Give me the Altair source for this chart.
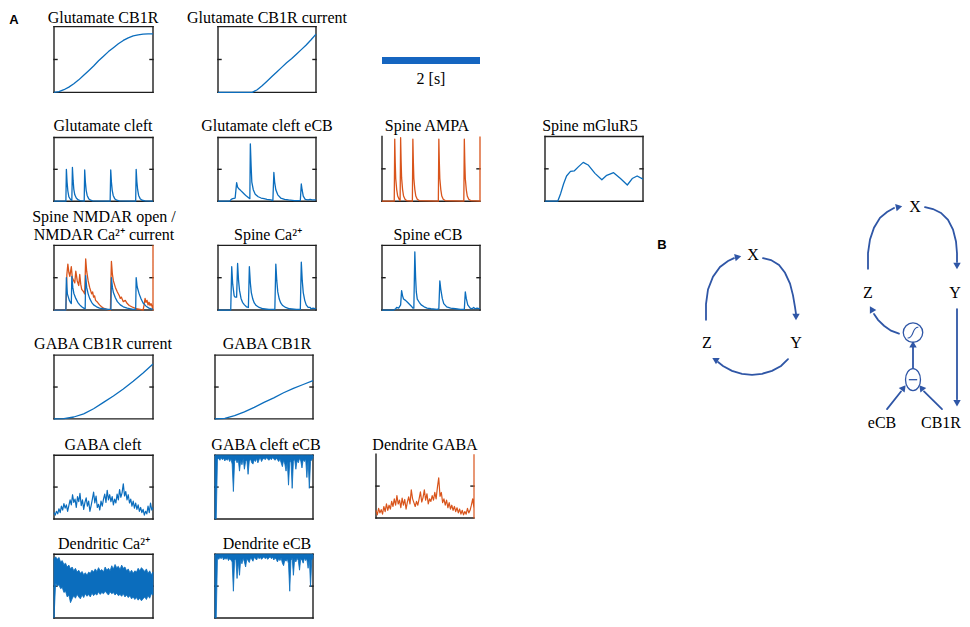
import altair as alt
import pandas as pd

W, H, M = 954, 611, 8
YTOP = 0          # page y shown at the top edge of the chart
YS = 0.9807       # vertical squeeze so the whole reference height fits
BLUE = "#0b6dbd"
ORANGE = "#d9541b"
INK = "#1e1e1e"
ARROW = "#2f56a6"
SERIF = "Liberation Serif, Times New Roman, serif"
SANS = "Liberation Sans, Arial, sans-serif"

# ---------------- panel layout (page pixels) ----------------
panel_keys = ["glu_cb1r", "glu_cb1r_cur", "glu_cleft", "glu_cleft_ecb", "spine_ampa",
              "spine_mglur5", "spine_nmdar", "spine_ca", "spine_ecb", "gaba_cb1r_cur",
              "gaba_cb1r", "gaba_cleft", "gaba_cleft_ecb", "dend_gaba", "dend_ca", "dend_ecb"]
box_left = [54, 218, 54, 218, 382, 545, 54, 218, 382, 54, 215, 54, 215, 376, 54, 215]
box_right = [153, 316, 153, 316, 480, 643, 153, 316, 480, 153, 313, 153, 313, 474, 153, 313]
box_top = [19, 19, 132, 132, 131, 131, 242, 242, 242, 354, 354, 456, 456, 455, 557, 557]
box_bottom = [86, 86, 197, 197, 197, 197, 308, 308, 308, 419, 419, 521, 521, 520, 622, 622]
box_edges = ["LRTB", "LRTB", "LRTB", "LRTB", "LB", "LRTB", "LTB", "LRTB", "LRTB", "LRTB",
             "LRTB", "LRTB", "LRTB", "LB", "LRTB", "LRTB"]

title_text = ["Glutamate CB1R", "Glutamate CB1R current", "Glutamate cleft", "Glutamate cleft eCB",
              "Spine AMPA", "Spine mGluR5", "Spine NMDAR open /", "NMDAR Ca²⁺ current", "Spine Ca²⁺",
              "Spine eCB", "GABA CB1R current", "GABA CB1R", "GABA cleft", "GABA cleft eCB",
              "Dendrite GABA", "Dendritic Ca²⁺", "Dendrite eCB"]
title_cx = [103, 267, 103, 267, 427, 590, 104, 104, 268, 428, 103, 267, 103, 266, 425, 104, 267]
title_y = [15, 15, 125, 125, 125, 125, 218, 237, 237, 237, 348, 348, 451, 451, 451, 552, 552]

# ---------------- traces (time fraction, value fraction) ----------------
glu_cb1r_t = [0, 0.05, 0.1, 0.15, 0.2, 0.25, 0.3, 0.35, 0.4, 0.45, 0.5, 0.55, 0.6, 0.65, 0.7, 0.75, 0.8, 0.85, 0.9, 0.95, 1.0]
glu_cb1r_v = [0, 0.01, 0.04, 0.08, 0.13, 0.19, 0.26, 0.33, 0.40, 0.48, 0.55, 0.62, 0.68, 0.74, 0.79, 0.83, 0.86, 0.875, 0.885, 0.89, 0.89]

glu_cb1r_cur_t = [0, 0.1, 0.2, 0.3, 0.35, 0.4, 0.45, 0.5, 0.55, 0.6, 0.65, 0.7, 0.75, 0.8, 0.85, 0.9, 0.95, 1.0]
glu_cb1r_cur_v = [0, 0, 0, 0, 0.0, 0.04, 0.10, 0.17, 0.24, 0.31, 0.38, 0.45, 0.51, 0.58, 0.65, 0.72, 0.80, 0.885]

glu_cleft_t = [0, 0.12, 0.125, 0.132, 0.14, 0.15, 0.165, 0.18, 0.186, 0.193, 0.2, 0.21, 0.225, 0.245, 0.265, 0.305,
               0.31, 0.317, 0.325, 0.335, 0.35, 0.37, 0.39, 0.567, 0.573, 0.58, 0.588, 0.598, 0.613, 0.633, 0.66,
               0.825, 0.83, 0.837, 0.845, 0.855, 0.87, 0.89, 0.92, 1.0]
glu_cleft_v = [0, 0, 0.50, 0.30, 0.16, 0.07, 0.03, 0.01, 0.53, 0.33, 0.19, 0.10, 0.05, 0.02, 0.01, 0.0,
               0.49, 0.30, 0.17, 0.09, 0.04, 0.015, 0.005, 0, 0.49, 0.30, 0.17, 0.09, 0.04, 0.015, 0.005,
               0, 0.50, 0.31, 0.18, 0.09, 0.04, 0.015, 0.005, 0]

glu_cleft_ecb_t = [0, 0.12, 0.135, 0.15, 0.175, 0.19, 0.2, 0.215, 0.23, 0.25, 0.27, 0.29, 0.315, 0.325, 0.33, 0.338,
                   0.345, 0.36, 0.38, 0.41, 0.44, 0.47, 0.5, 0.54, 0.56, 0.57, 0.578, 0.59, 0.61, 0.64, 0.68, 0.72,
                   0.78, 0.84, 0.85, 0.858, 0.87, 0.89, 0.92, 0.94, 0.96, 1.0]
glu_cleft_ecb_v = [0, 0, 0.03, 0.04, 0.05, 0.29, 0.22, 0.19, 0.17, 0.14, 0.11, 0.08, 0.05, 0.04, 0.90, 0.55,
                   0.30, 0.18, 0.11, 0.07, 0.05, 0.04, 0.03, 0.02, 0.01, 0.45, 0.30, 0.18, 0.10, 0.05, 0.03, 0.02,
                   0.01, 0.01, 0.27, 0.18, 0.08, 0.03, 0.02, 0.03, 0.02, 0.02]

ampa_t = [0, 0.125, 0.13, 0.135, 0.14, 0.15, 0.16, 0.175, 0.185, 0.19, 0.195, 0.2, 0.21, 0.22, 0.235, 0.25,
          0.31, 0.315, 0.32, 0.325, 0.335, 0.345, 0.36, 0.38, 0.575, 0.58, 0.585, 0.59, 0.6, 0.61, 0.625, 0.645,
          0.835, 0.84, 0.845, 0.85, 0.86, 0.87, 0.885, 0.905, 1.0, 1.0]
ampa_v = [0, 0, 0.96, 0.60, 0.35, 0.18, 0.08, 0.03, 0.01, 0.98, 0.62, 0.36, 0.18, 0.08, 0.03, 0.01,
          0, 0.96, 0.60, 0.35, 0.18, 0.08, 0.03, 0.01, 0, 0.96, 0.60, 0.35, 0.18, 0.08, 0.03, 0.01,
          0, 0.96, 0.60, 0.35, 0.18, 0.08, 0.03, 0.01, 0, 1.0]

mglur5_t = [0, 0.13, 0.16, 0.19, 0.22, 0.26, 0.30, 0.34, 0.39, 0.44, 0.51, 0.58, 0.63, 0.70, 0.77, 0.84, 0.89, 0.94, 1.0]
mglur5_v = [0, 0, 0.12, 0.27, 0.39, 0.46, 0.47, 0.53, 0.60, 0.56, 0.43, 0.33, 0.40, 0.44, 0.35, 0.25, 0.35, 0.39, 0.34]

nmdar_o_t = [0, 0.12, 0.13, 0.14, 0.15, 0.16, 0.175, 0.185, 0.2, 0.21, 0.22, 0.235, 0.25, 0.26, 0.27, 0.28, 0.3,
             0.31, 0.32, 0.33, 0.345, 0.36, 0.37, 0.38, 0.39, 0.4, 0.41, 0.42, 0.44, 0.46, 0.48, 0.5, 0.53, 0.57,
             0.575, 0.58, 0.59, 0.6, 0.62, 0.64, 0.66, 0.67, 0.68, 0.7, 0.72, 0.74, 0.76, 0.8, 0.83, 0.87, 0.9,
             0.91, 0.92, 0.93, 0.94, 0.95, 0.96, 0.97, 0.98, 0.99, 1.0, 1.0]
nmdar_o_v = [0, 0, 0.55, 0.71, 0.58, 0.52, 0.67, 0.50, 0.45, 0.42, 0.60, 0.45, 0.38, 0.55, 0.40, 0.32, 0.28,
             0.25, 0.79, 0.60, 0.45, 0.35, 0.30, 0.25, 0.28, 0.20, 0.22, 0.15, 0.12, 0.08, 0.05, 0.03, 0.01, 0,
             0.45, 0.75, 0.55, 0.45, 0.35, 0.28, 0.22, 0.18, 0.20, 0.13, 0.15, 0.10, 0.07, 0.04, 0.02, 0.01, 0,
             0.08, 0.18, 0.12, 0.15, 0.08, 0.12, 0.07, 0.10, 0.06, 0, 1.0]
nmdar_b_t = [0, 0.12, 0.125, 0.135, 0.145, 0.155, 0.165, 0.175, 0.18, 0.19, 0.2, 0.22, 0.24, 0.26, 0.28, 0.3, 0.315,
             0.32, 0.33, 0.345, 0.36, 0.38, 0.4, 0.43, 0.46, 0.5, 0.55, 0.575, 0.58, 0.59, 0.6, 0.62, 0.64, 0.67,
             0.7, 0.74, 0.8, 0.825, 0.83, 0.84, 0.86, 0.88, 0.9, 0.93, 0.96, 1.0]
nmdar_b_v = [0, 0, 0.50, 0.25, 0.20, 0.15, 0.12, 0.10, 0.52, 0.35, 0.26, 0.18, 0.12, 0.08, 0.05, 0.03, 0.02,
             0.53, 0.35, 0.25, 0.18, 0.12, 0.08, 0.05, 0.03, 0.02, 0.01, 0.01, 0.50, 0.35, 0.27, 0.19, 0.13, 0.08,
             0.05, 0.03, 0.01, 0.01, 0.50, 0.36, 0.25, 0.17, 0.11, 0.06, 0.03, 0.01]

spine_ca_t = [0, 0.13, 0.14, 0.15, 0.165, 0.175, 0.19, 0.2, 0.21, 0.22, 0.235, 0.25, 0.27, 0.29, 0.31, 0.32, 0.33,
              0.34, 0.355, 0.37, 0.39, 0.42, 0.46, 0.52, 0.58, 0.59, 0.6, 0.61, 0.625, 0.64, 0.66, 0.69, 0.73, 0.8,
              0.84, 0.85, 0.86, 0.87, 0.885, 0.9, 0.92, 0.94, 0.95, 0.97, 1.0]
spine_ca_v = [0, 0, 0.67, 0.40, 0.22, 0.20, 0.20, 0.72, 0.45, 0.30, 0.18, 0.12, 0.08, 0.05, 0.04, 0.67, 0.42,
              0.27, 0.17, 0.11, 0.07, 0.04, 0.02, 0.01, 0.01, 0.71, 0.45, 0.28, 0.17, 0.11, 0.07, 0.04, 0.02, 0.01,
              0.01, 0.74, 0.45, 0.27, 0.15, 0.08, 0.04, 0.04, 0.02, 0.03, 0.02]

spine_ecb_t = [0, 0.12, 0.14, 0.15, 0.17, 0.19, 0.2, 0.21, 0.22, 0.24, 0.26, 0.28, 0.3, 0.315, 0.325, 0.335, 0.343,
               0.35, 0.36, 0.38, 0.4, 0.43, 0.46, 0.5, 0.56, 0.58, 0.59, 0.6, 0.615, 0.63, 0.66, 0.7, 0.75, 0.8,
               0.84, 0.85, 0.86, 0.875, 0.9, 0.92, 0.935, 0.95, 0.97, 1.0]
spine_ecb_v = [0, 0, 0.02, 0.04, 0.03, 0.08, 0.30, 0.22, 0.17, 0.15, 0.12, 0.09, 0.06, 0.03, 0.03, 0.90, 0.50,
               0.28, 0.17, 0.12, 0.08, 0.05, 0.03, 0.02, 0.01, 0.02, 0.45, 0.32, 0.18, 0.10, 0.05, 0.03, 0.02, 0.01,
               0.01, 0.28, 0.18, 0.08, 0.03, 0.02, 0.04, 0.02, 0.03, 0.02]

gaba_cb1r_cur_t = [0, 0.1, 0.2, 0.3, 0.4, 0.5, 0.6, 0.7, 0.8, 0.9, 1.0]
gaba_cb1r_cur_v = [0, 0.005, 0.03, 0.08, 0.16, 0.26, 0.36, 0.47, 0.59, 0.72, 0.86]

gaba_cb1r_t = [0, 0.1, 0.2, 0.3, 0.4, 0.5, 0.6, 0.7, 0.8, 0.9, 1.0]
gaba_cb1r_v = [0, 0.01, 0.05, 0.11, 0.18, 0.26, 0.33, 0.41, 0.48, 0.54, 0.60]

# evenly sampled noisy traces (sample values, left to right)
gaba_cleft_v = [0.10, 0.06, 0.12, 0.08, 0.16, 0.10, 0.20, 0.14, 0.24, 0.17,
                0.22, 0.12, 0.21, 0.30, 0.22, 0.38, 0.26, 0.31, 0.18, 0.35,
                0.27, 0.40, 0.21, 0.30, 0.15, 0.26, 0.33, 0.20, 0.28, 0.12,
                0.21, 0.31, 0.42, 0.25, 0.36, 0.18, 0.23, 0.14, 0.28, 0.20,
                0.31, 0.39, 0.26, 0.45, 0.30, 0.38, 0.27, 0.35, 0.22, 0.31,
                0.25, 0.39, 0.30, 0.46, 0.34, 0.41, 0.55, 0.36, 0.43, 0.30,
                0.38, 0.25, 0.31, 0.20, 0.28, 0.17, 0.25, 0.15, 0.22, 0.12,
                0.18, 0.10, 0.15, 0.06, 0.12, 0.08, 0.20, 0.10, 0.25, 0.14, 0.18]

dend_gaba_v = [0.12, 0.05, 0.15, 0.08, 0.13, 0.06, 0.18, 0.10, 0.22, 0.12,
               0.20, 0.14, 0.26, 0.18, 0.30, 0.20, 0.35, 0.22, 0.28, 0.16,
               0.31, 0.20, 0.29, 0.14, 0.25, 0.33, 0.22, 0.44, 0.30, 0.24,
               0.18, 0.26, 0.20, 0.30, 0.41, 0.25, 0.32, 0.44, 0.28, 0.38,
               0.22, 0.30, 0.26, 0.35, 0.28, 0.40, 0.30, 0.48, 0.63, 0.34,
               0.40, 0.24, 0.30, 0.20, 0.28, 0.16, 0.24, 0.14, 0.20, 0.12,
               0.18, 0.10, 0.16, 0.08, 0.14, 0.06, 0.12, 0.05, 0.10, 0.06,
               0.15, 0.08, 0.12, 0.20, 0.30, 0.15]

gaba_cleft_ecb_low = [0.00, 0.00, 0.93, 0.95, 0.92, 0.96, 0.93, 0.95, 0.91, 0.94,
                      0.92, 0.95, 0.90, 0.94, 0.86, 0.43, 0.90, 0.94, 0.88, 0.93,
                      0.75, 0.92, 0.85, 0.95, 0.78, 0.90, 0.93, 0.70, 0.91, 0.94,
                      0.88, 0.86, 0.93, 0.90, 0.95, 0.88, 0.93, 0.96, 0.90, 0.94,
                      0.95, 0.93, 0.96, 0.94, 0.92, 0.95, 0.93, 0.96, 0.94, 0.92,
                      0.95, 0.93, 0.90, 0.94, 0.88, 0.82, 0.92, 0.86, 0.75, 0.90,
                      0.53, 0.88, 0.92, 0.48, 0.90, 0.94, 0.78, 0.92, 0.88, 0.95,
                      0.91, 0.80, 0.93, 0.90, 0.94, 0.65, 0.92, 0.48, 0.90, 0.93, 0.95]

dend_ecb_low = [0.00, 0.00, 0.94, 0.92, 0.95, 0.93, 0.96, 0.91, 0.94, 0.92,
                0.95, 0.90, 0.93, 0.91, 0.88, 0.42, 0.90, 0.93, 0.62, 0.89,
                0.67, 0.92, 0.85, 0.94, 0.88, 0.80, 0.93, 0.90, 0.87, 0.94,
                0.92, 0.89, 0.95, 0.93, 0.91, 0.96, 0.93, 0.95, 0.92, 0.94,
                0.96, 0.93, 0.95, 0.92, 0.94, 0.96, 0.93, 0.95, 0.91, 0.94,
                0.92, 0.88, 0.93, 0.90, 0.94, 0.86, 0.82, 0.91, 0.89, 0.93,
                0.85, 0.42, 0.90, 0.94, 0.67, 0.92, 0.88, 0.94, 0.90, 0.75,
                0.93, 0.91, 0.86, 0.94, 0.90, 0.92, 0.78, 0.93, 0.49, 0.91, 0.94]

dend_ca_upper = [0.93, 0.96, 0.92, 0.95, 0.88, 0.90, 0.84, 0.86, 0.80, 0.83,
                 0.77, 0.80, 0.74, 0.78, 0.72, 0.75, 0.70, 0.73, 0.68, 0.71,
                 0.67, 0.72, 0.70, 0.75, 0.72, 0.77, 0.73, 0.79, 0.74, 0.76,
                 0.72, 0.80, 0.75, 0.78, 0.74, 0.82, 0.77, 0.84, 0.79, 0.81,
                 0.76, 0.83, 0.78, 0.80, 0.74, 0.77, 0.71, 0.75, 0.70, 0.74,
                 0.72, 0.78, 0.74, 0.79, 0.76, 0.73, 0.77, 0.70, 0.74, 0.68, 0.72]
dend_ca_lower = [0.00, 0.55, 0.50, 0.52, 0.46, 0.48, 0.40, 0.42, 0.33, 0.36,
                 0.24, 0.30, 0.35, 0.31, 0.37, 0.33, 0.30, 0.36, 0.32, 0.38,
                 0.34, 0.37, 0.33, 0.39, 0.35, 0.38, 0.36, 0.41, 0.37, 0.40,
                 0.38, 0.42, 0.39, 0.36, 0.41, 0.38, 0.40, 0.36, 0.39, 0.35,
                 0.37, 0.34, 0.38, 0.33, 0.36, 0.32, 0.35, 0.30, 0.33, 0.29,
                 0.32, 0.28, 0.31, 0.27, 0.30, 0.33, 0.29, 0.35, 0.31, 0.38, 0.36]

# scale bar: 2 s, spanning one panel width
scalebar_x = [382, 480]
scalebar_y = [53.5]
scalebar_label = ["2 [s]"]
scalebar_label_xy = [431, 77]

# ---------------- panel B diagram (page pixels) ----------------
arcs = {
    "L_zx": ([706, 706, 708, 713, 720, 728, 734], [318, 302, 287, 274, 264, 258, 255]),
    "L_xy": ([763, 771, 779, 785, 790, 793, 795, 796], [255, 257, 262, 270, 281, 293, 305, 312]),
    "L_yz": ([788, 781, 772, 762, 752, 742, 732, 723, 718], [358, 365, 370, 373, 374, 373, 370, 365, 361]),
    "R_zx": ([868, 868, 870, 874, 880, 887, 894], [266, 250, 236, 224, 214, 208, 204]),
    "R_xy": ([925, 933, 941, 948, 953, 956, 957, 957], [203, 205, 209, 216, 226, 238, 250, 259]),
    "R_y_cb": ([957, 957], [307, 399]),
    "R_sig_z": ([899, 891, 884, 878, 874], [332, 329, 324, 318, 312]),
    "R_min_sig": ([913, 913], [367, 346]),
    "R_ecb_min": ([887, 901], [409, 391]),
    "R_cb_min": ([942, 924], [409, 391]),
}
head_x = [737, 796, 716, 898, 957, 957, 872, 913, 903, 922]
head_y = [254, 314, 359, 203, 262, 402, 308, 344, 388, 388]
head_angle = [78, 180, 300, 78, 180, 180, 330, 0, 38, 322]

node_text = ["X", "Z", "Y", "X", "Z", "Y", "eCB", "CB1R"]
node_x = [753, 707, 796, 915, 868, 955, 882, 941]
node_y = [252, 342, 342, 203, 291, 291, 423, 423]

letter_text = ["A", "B"]
letter_x = [14, 662]
letter_y = [12, 242]

op_x = [913, 913]
op_y = [331, 379]


# ---------------- helpers ----------------
def cy(p):
    """page y -> chart y"""
    return (p - YTOP) * YS


def page_x(field):
    return alt.X(f"{field}:Q", axis=None,
                 scale=alt.Scale(domain=[M, M + W], range=[0, W], nice=False, zero=False))


def page_y(field):
    return alt.Y(f"{field}:Q", axis=None,
                 scale=alt.Scale(domain=[YTOP, YTOP + H / YS], range=[0, H], nice=False, zero=False))


def pscales(key, xmax=1.0):
    i = panel_keys.index(key)
    xs = alt.Scale(domain=[0, xmax], range=[box_left[i] - M, box_right[i] - M], nice=False, zero=False)
    ys = alt.Scale(domain=[0, 1], range=[cy(box_bottom[i]), cy(box_top[i])], nice=False, zero=False)
    return xs, ys


def line_layer(key, t, v, color, xmax=1.0, width=1.3):
    xs, ys = pscales(key, xmax)
    df = pd.DataFrame({"t": t, "v": v, "k": list(range(len(t)))})
    return alt.Chart(df).mark_line(color=color, strokeWidth=width, strokeJoin="round").encode(
        x=alt.X("t:Q", scale=xs, axis=None),
        y=alt.Y("v:Q", scale=ys, axis=None),
        order=alt.Order("k:Q"))


def band_layer(key, low, high, color):
    n = len(low)
    xs, ys = pscales(key, n - 1)
    df = pd.DataFrame({"t": list(range(n)), "lo": low, "hi": high})
    return alt.Chart(df).mark_area(color=color, stroke=color, strokeWidth=0.8, opacity=1).encode(
        x=alt.X("t:Q", scale=xs, axis=None),
        y=alt.Y("lo:Q", scale=ys, axis=None),
        y2=alt.Y2("hi:Q"))


layers = []

# frames
ex, ex2, ey, ey2 = [], [], [], []
for i in range(len(panel_keys)):
    x0, x1, y0, y1 = box_left[i], box_right[i], box_top[i], box_bottom[i]
    for e in box_edges[i]:
        if e == "L":
            ex += [x0]; ex2 += [x0]; ey += [y0]; ey2 += [y1]
        if e == "R":
            ex += [x1]; ex2 += [x1]; ey += [y0]; ey2 += [y1]
        if e == "T":
            ex += [x0]; ex2 += [x1]; ey += [y0]; ey2 += [y0]
        if e == "B":
            ex += [x0]; ex2 += [x1]; ey += [y1]; ey2 += [y1]
    ym = (y0 + y1) / 2
    ex += [x0, x1 - 3]; ex2 += [x0 + 3, x1]; ey += [ym, ym]; ey2 += [ym, ym]
frames = pd.DataFrame({"x": ex, "x2": ex2, "y": ey, "y2": ey2})
layers.append(alt.Chart(frames).mark_rule(color=INK, strokeWidth=1.4, strokeCap="square").encode(
    x=page_x("x"), x2="x2:Q", y=page_y("y"), y2="y2:Q"))

# traces
layers.append(line_layer("glu_cb1r", glu_cb1r_t, glu_cb1r_v, BLUE))
layers.append(line_layer("glu_cb1r_cur", glu_cb1r_cur_t, glu_cb1r_cur_v, BLUE))
layers.append(line_layer("glu_cleft", glu_cleft_t, glu_cleft_v, BLUE))
layers.append(line_layer("glu_cleft_ecb", glu_cleft_ecb_t, glu_cleft_ecb_v, BLUE))
layers.append(line_layer("spine_ampa", ampa_t, ampa_v, ORANGE))
layers.append(line_layer("spine_mglur5", mglur5_t, mglur5_v, BLUE))
layers.append(line_layer("spine_nmdar", nmdar_o_t, nmdar_o_v, ORANGE))
layers.append(line_layer("spine_nmdar", nmdar_b_t, nmdar_b_v, BLUE))
layers.append(line_layer("spine_ca", spine_ca_t, spine_ca_v, BLUE))
layers.append(line_layer("spine_ecb", spine_ecb_t, spine_ecb_v, BLUE))
layers.append(line_layer("gaba_cb1r_cur", gaba_cb1r_cur_t, gaba_cb1r_cur_v, BLUE))
layers.append(line_layer("gaba_cb1r", gaba_cb1r_t, gaba_cb1r_v, BLUE))
n = len(gaba_cleft_v)
layers.append(line_layer("gaba_cleft", list(range(n)), gaba_cleft_v, BLUE, xmax=n - 1, width=1.2))
n = len(dend_gaba_v)
layers.append(line_layer("dend_gaba", list(range(n)) + [n - 1, n - 1], dend_gaba_v + [0, 1],
                         ORANGE, xmax=n - 1, width=1.2))
layers.append(band_layer("gaba_cleft_ecb", gaba_cleft_ecb_low, [1.0] * len(gaba_cleft_ecb_low), BLUE))
layers.append(band_layer("dend_ecb", dend_ecb_low, [1.0] * len(dend_ecb_low), BLUE))
layers.append(band_layer("dend_ca", dend_ca_lower, dend_ca_upper, BLUE))

# titles
titles = pd.DataFrame({"text": title_text, "x": title_cx, "y": title_y})
layers.append(alt.Chart(titles).mark_text(font=SERIF, fontSize=16, color="black", align="center",
                                          baseline="alphabetic").encode(
    x=page_x("x"), y=page_y("y"), text="text:N"))

# scale bar
sb = pd.DataFrame({"x": [scalebar_x[0]], "x2": [scalebar_x[1]], "y": scalebar_y})
layers.append(alt.Chart(sb).mark_rule(color="#1565c0", strokeWidth=7).encode(
    x=page_x("x"), x2="x2:Q", y=page_y("y")))
sbl = pd.DataFrame({"text": scalebar_label, "x": [scalebar_label_xy[0]], "y": [scalebar_label_xy[1]]})
layers.append(alt.Chart(sbl).mark_text(font=SERIF, fontSize=16, color="black", align="center",
                                       baseline="alphabetic").encode(
    x=page_x("x"), y=page_y("y"), text="text:N"))

# panel letters
let = pd.DataFrame({"text": letter_text, "x": letter_x, "y": letter_y})
layers.append(alt.Chart(let).mark_text(font=SANS, fontSize=13, fontWeight="bold", color="black",
                                       align="center", baseline="middle").encode(
    x=page_x("x"), y=page_y("y"), text="text:N"))

# diagram arcs
arc_id, arc_x, arc_y = [], [], []
for name, (xs_, ys_) in arcs.items():
    for j in range(len(xs_)):
        arc_id.append(name); arc_x.append(xs_[j]); arc_y.append(ys_[j])
arc_df = pd.DataFrame({"arc": arc_id, "x": arc_x, "y": arc_y, "k": list(range(len(arc_x)))})
layers.append(alt.Chart(arc_df).mark_line(color=ARROW, strokeWidth=1.8, strokeCap="round").encode(
    x=page_x("x"), y=page_y("y"), detail="arc:N", order=alt.Order("k:Q")))
heads = pd.DataFrame({"x": head_x, "y": head_y, "a": head_angle})
layers.append(alt.Chart(heads).mark_point(shape="triangle", filled=True, size=55, color=ARROW, opacity=1).encode(
    x=page_x("x"), y=page_y("y"), angle=alt.Angle("a:Q", scale=None)))

# operator symbols
ops = pd.DataFrame({"x": op_x[:1], "y": op_y[:1]})
layers.append(alt.Chart(ops).mark_point(shape="circle", size=380, filled=False, color=ARROW,
                                        strokeWidth=1.3, opacity=1).encode(x=page_x("x"), y=page_y("y")))
layers.append(alt.Chart(ops).mark_point(shape="M -0.55 0.55 C 0.15 0.6 -0.15 -0.6 0.55 -0.55", size=380,
                                        filled=False, color=ARROW, strokeWidth=1.2, opacity=1).encode(
    x=page_x("x"), y=page_y("y")))
ops2 = pd.DataFrame({"x": op_x[1:], "y": op_y[1:]})
layers.append(alt.Chart(ops2).mark_point(shape="M 0 -1 A 0.68 1 0 1 1 0 1 A 0.68 1 0 1 1 0 -1 Z", size=484,
                                         filled=False, color=ARROW, strokeWidth=1.3, opacity=1).encode(
    x=page_x("x"), y=page_y("y")))
layers.append(alt.Chart(ops2).mark_point(shape="M -0.38 0 L 0.38 0", size=484, filled=False, color=ARROW,
                                         strokeWidth=1.3, opacity=1).encode(x=page_x("x"), y=page_y("y")))

nodes = pd.DataFrame({"text": node_text, "x": node_x, "y": node_y})
layers.append(alt.Chart(nodes).mark_text(font=SERIF, fontSize=16, color="black", align="center",
                                         baseline="middle").encode(
    x=page_x("x"), y=page_y("y"), text="text:N"))

chart = alt.layer(*layers).resolve_scale(x="independent", y="independent").properties(
    width=W, height=H, padding=0, autosize=alt.AutoSizeParams(type="none")
).configure_view(stroke=None)

chart.save("out.html", embed_options={"renderer": "svg", "actions": False})
